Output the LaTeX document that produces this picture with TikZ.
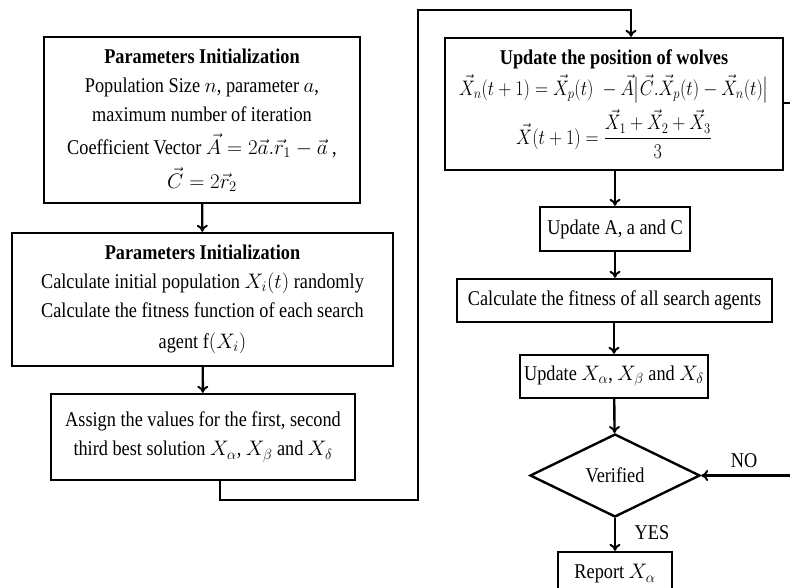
\documentclass[tikz,border=0pt]{standalone}
\usepackage{fix-cm}
\usepackage{amsmath}
\usepackage{fontspec}
\setmainfont[FakeStretch=0.87]{Liberation Serif}
\usetikzlibrary{shapes.geometric,arrows.meta}
\newcommand{\gwoeq}[1]{\scalebox{0.86}[1]{$#1$}}

\begin{document}
\begin{tikzpicture}[x=1pt,y=-1pt,
	line width=2.4pt,
	font=\fontsize{21}{29}\selectfont,
	gwobox/.style={draw,align=center,inner sep=0pt},
	gwoarrow/.style={-{To[length=7pt,width=11pt,line width=2pt]}}]
	\useasboundingbox (0,0) rectangle (790,587);
	%
	% left column
	\node[gwobox,minimum width=316pt,minimum height=166pt] (init) at (202,120)
		{\textbf{Parameters Initialization}\\
		Population Size $n$, parameter $a$,\\
		maximum number of iteration\\[4pt]
		Coefficient Vector $\vec{A}=2\vec{a}.\vec{r}_1-\vec{a}$ ,\\[5pt]
		$\vec{C}=2\vec{r}_2$};
	\node[gwobox,minimum width=381pt,minimum height=133pt] (pop) at (202.5,299.5)
		{\textbf{Parameters Initialization}\\
		Calculate initial population $X_i(t)$ randomly\\
		Calculate the fitness function of each search\\[2pt]
		agent f$(X_i)$};
	\node[gwobox,minimum width=304pt,minimum height=86pt] (assign) at (203,437)
		{Assign the values for the first, second\\
		third best solution $X_\alpha$, $X_\beta$ and $X_\delta$};
	%
	% right column
	\node[gwobox,minimum width=338pt,minimum height=132pt] (wolves) at (614,104)
		{\textbf{Update the position of wolves}\\[2pt]
		\gwoeq{\vec{X}_n(t+1)=\vec{X}_p(t)\;-\vec{A}\bigl|\vec{C}.\vec{X}_p(t)-\vec{X}_n(t)\bigr|}\\[6pt]
		\gwoeq{\vec{X}(t+1)=\dfrac{\vec{X}_1+\vec{X}_2+\vec{X}_3}{3}}};
	\node[gwobox,minimum width=150pt,minimum height=44pt] (coef) at (615,229)
		{Update A, a and C};
	\node[gwobox,minimum width=315pt,minimum height=43pt] (fit) at (614.5,300.5)
		{Calculate the fitness of all search agents};
	\node[gwobox,minimum width=188pt,minimum height=43pt] (best) at (614,376.5)
		{Update $X_\alpha$, $X_\beta$ and $X_\delta$};
	\node[draw,shape=diamond,inner sep=0pt,minimum width=170pt,minimum height=83pt] (check) at (615,475.5)
		{Verified};
	\node[gwobox,minimum width=114pt,minimum height=44pt] (report) at (615,574)
		{Report $X_\alpha$};
	%
	\coordinate (c1) at (220,500);
	\coordinate (c2) at (418,500);
	\coordinate (c3) at (418,10);
	\coordinate (c4) at (631,10);
	\coordinate (c5) at (793,103);
	\coordinate (c6) at (793,475.5);
	%
	\draw[gwoarrow] (init) -- (pop);
	\draw[gwoarrow] (pop) -- (assign);
	\draw[gwoarrow] (assign.south -| c1) -- (c1) -- (c2) -- (c3) -- (c4) -- (c4 |- wolves.north);
	\draw[gwoarrow] (wolves.south -| coef) -- (coef);
	\draw[gwoarrow] (coef) -- (fit.north -| coef);
	\draw[gwoarrow] (fit.south -| best) -- (best);
	\draw[gwoarrow] (best) -- (check);
	\draw[gwoarrow] (check) -- (report);
	\draw[gwoarrow] (wolves.east |- c5) -- (c5) -- (c6) -- (check.east);
	%
	\node (no) at (744,461) {NO};
	\node (yes) at (652,533) {YES};
\end{tikzpicture}
\end{document}
